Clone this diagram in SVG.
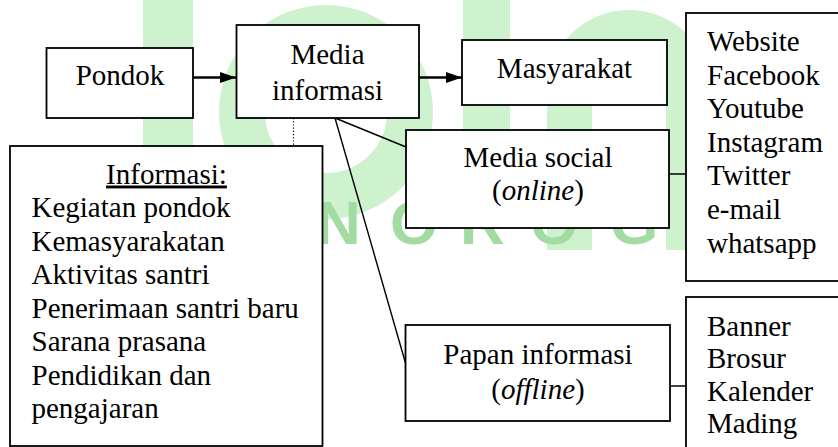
<svg xmlns="http://www.w3.org/2000/svg" width="838" height="447" viewBox="0 0 838 447">
<style>
  .box { fill: #ffffff; stroke: #000000; stroke-width: 1.8; }
  .wm { fill: #cdf2cd; }
  .ln { stroke: #000000; fill: none; }
</style>
<defs>
  <marker id="ah" viewBox="0 0 16 11" refX="16" refY="5.5" markerWidth="16" markerHeight="11" markerUnits="userSpaceOnUse" orient="auto">
    <path d="M0,0 L16,5.5 L0,11 Z" fill="#000000"/>
  </marker>
</defs>
<rect x="0" y="0" width="838" height="447" fill="#ffffff"/>
<g id="watermark">
  <rect class="wm" x="143" y="-40" width="50" height="250" rx="25"/>
  <circle cx="326" cy="112" r="84" fill="none" stroke="#cdf2cd" stroke-width="46"/>
  <rect class="wm" x="463" y="-40" width="47" height="270" rx="23"/>
  <path class="wm" d="M547,250 L547,92 A82,82 0 0 1 711,92 L711,250 L666,250 L666,92 A37,37 0 0 0 592,92 L592,250 Z"/>
  <text font-family="'Liberation Sans', sans-serif" font-weight="bold" font-size="62" fill="#a2dca2" x="186 256 316 390 460 530 610 690" y="244">PONOROGO</text>
</g>
<g id="connectors">
  <line class="ln" x1="193" y1="77.5" x2="236" y2="77.5" stroke-width="2.6" marker-end="url(#ah)"/>
  <line class="ln" x1="419" y1="77.5" x2="462" y2="77.5" stroke-width="2.6" marker-end="url(#ah)"/>
  <line class="ln" x1="293.5" y1="118" x2="293.5" y2="146" stroke-width="1.2" stroke-dasharray="1.2,2"/>
  <line class="ln" x1="335" y1="118" x2="406" y2="147" stroke-width="1.4"/>
  <line class="ln" x1="335" y1="118" x2="405.5" y2="363" stroke-width="1.4"/>
  <line class="ln" x1="669" y1="174" x2="686" y2="174" stroke-width="1.5"/>
  <line class="ln" x1="670" y1="386" x2="686" y2="386" stroke-width="1.5"/>
</g>
<g font-family="'Liberation Serif', 'Times New Roman', serif" font-size="29" fill="#000000">
<g id="pondok">
  <rect class="box" x="46.5" y="48" width="146.5" height="70"/>
  <text text-anchor="middle" x="120" y="85">Pondok</text>
</g>
<g id="media-informasi">
  <rect class="box" x="236.5" y="25" width="182.5" height="93"/>
  <text text-anchor="middle" x="327.5" y="63.5">Media</text>
  <text text-anchor="middle" x="327.5" y="100">informasi</text>
</g>
<g id="masyarakat">
  <rect class="box" x="462" y="40" width="205" height="65"/>
  <text text-anchor="middle" x="564.5" y="78">Masyarakat</text>
</g>
<g id="informasi">
  <rect class="box" x="10" y="146" width="312.5" height="300"/>
  <text text-anchor="middle" x="166.5" y="183.5" text-decoration="underline">Informasi:</text>
  <text x="31.5" y="217">Kegiatan pondok</text>
  <text x="31.5" y="250.5">Kemasyarakatan</text>
  <text x="31.5" y="284">Aktivitas santri</text>
  <text x="31.5" y="317.5">Penerimaan santri baru</text>
  <text x="31.5" y="351">Sarana prasana</text>
  <text x="31.5" y="384.5">Pendidikan dan</text>
  <text x="31.5" y="418">pengajaran</text>
</g>
<g id="media-social">
  <rect class="box" x="406" y="130" width="263" height="98"/>
  <text text-anchor="middle" x="538" y="166.5">Media social</text>
  <text text-anchor="middle" x="538" y="200">(<tspan font-style="italic">online</tspan>)</text>
</g>
<g id="papan-informasi">
  <rect class="box" x="405.5" y="325" width="264.5" height="96"/>
  <text text-anchor="middle" x="538" y="363.5">Papan informasi</text>
  <text text-anchor="middle" x="538" y="398.5">(<tspan font-style="italic">offline</tspan>)</text>
</g>
<g id="online-list">
  <rect class="box" x="686" y="13" width="170" height="268"/>
  <text x="707" y="51">Website</text>
  <text x="707" y="84.6">Facebook</text>
  <text x="707" y="118.2">Youtube</text>
  <text x="707" y="151.8">Instagram</text>
  <text x="707" y="185.4">Twitter</text>
  <text x="707" y="219">e-mail</text>
  <text x="707" y="252.6">whatsapp</text>
</g>
<g id="offline-list">
  <rect class="box" x="686" y="297" width="170" height="170"/>
  <text x="707" y="335.5">Banner</text>
  <text x="707" y="368.1">Brosur</text>
  <text x="707" y="400.7">Kalender</text>
  <text x="707" y="433.3">Mading</text>
</g>
</g>
</svg>
